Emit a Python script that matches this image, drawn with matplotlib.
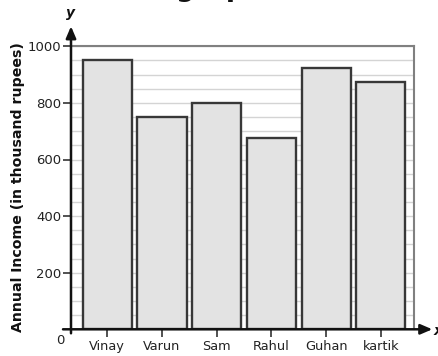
import matplotlib
matplotlib.use("Agg")
import matplotlib.pyplot as plt
from matplotlib.ticker import MultipleLocator

names = ["Vinay", "Varun", "Sam", "Rahul", "Guhan", "kartik"]
income = [950, 750, 800, 675, 925, 875]
y_ticks = [200, 400, 600, 800, 1000]

W, H = 439, 356
fig = plt.figure(figsize=(W / 100, H / 100), dpi=100)
fig.patch.set_facecolor("white")

# axes box in pixel terms: x 71..414, y 46..329 (from top)
ax = fig.add_axes([71 / W, (H - 329.3) / H, 343.3 / W, 283 / H])
pos = list(range(len(names)))
x_lo, x_hi = -0.664, 5.612
ax.set_xlim(x_lo, x_hi)
ax.set_ylim(0, 1000)

# light gridlines every 50
ax.yaxis.set_minor_locator(MultipleLocator(50))
ax.grid(which="both", axis="y", color="#d4d4d4", lw=1.0)
ax.set_axisbelow(True)

ax.bar(pos, income, width=0.9, color="#e3e3e3", edgecolor="#383838",
       linewidth=1.7, zorder=3)

for side in ("top", "right"):
    ax.spines[side].set_color("#808080")
    ax.spines[side].set_linewidth(1.5)
for side in ("left", "bottom"):
    ax.spines[side].set_visible(False)

# axis lines with arrows, extending past the plot box
px_x = 54.7  # pixels per category
px_y = 0.283  # pixels per unit
ax.annotate("", xy=(x_hi + 18 / px_x, 0), xytext=(x_lo - 8 / px_x, 0),
            xycoords="data", textcoords="data", annotation_clip=False,
            arrowprops=dict(arrowstyle="-|>,head_length=0.7,head_width=0.3",
                            color="#111111", lw=1.8, shrinkA=0, shrinkB=0))
ax.annotate("", xy=(x_lo, 1000 + 20 / px_y), xytext=(x_lo, -4 / px_y),
            xycoords="data", textcoords="data", annotation_clip=False,
            arrowprops=dict(arrowstyle="-|>,head_length=0.7,head_width=0.3",
                            color="#111111", lw=1.8, shrinkA=0, shrinkB=0))

ax.set_yticks(y_ticks)
ax.set_yticklabels([str(v) for v in y_ticks])
ax.tick_params(axis="y", which="major", length=6, width=1.2, color="#333333",
               labelsize=9.5, labelcolor="#222222", pad=1, direction="out")
ax.tick_params(axis="y", which="minor", length=0)
ax.set_xticks(pos)
ax.set_xticklabels(names)
ax.tick_params(axis="x", length=6, width=1.2, color="#333333", labelsize=9.3,
               labelcolor="#222222", pad=2, direction="out")

fig.text(60 / W, (H - 340) / H, "0", ha="center", va="center", fontsize=9.5,
         color="#222222")
fig.text(70 / W, (H - 13) / H, "y", ha="center", va="center", fontsize=10,
         fontweight="bold", style="italic", color="#111111")
fig.text(434 / W, (H - 331) / H, "x", ha="left", va="center", fontsize=10,
         fontweight="bold", style="italic", color="#111111")
fig.text(18 / W, (H - 187.5) / H, "Annual Income (in thousand rupees)",
         rotation=90, ha="center", va="center", fontsize=10.2,
         fontweight="bold", color="#111111")
fig.text(190 / W, (H + 3.5) / H, "Bar graph", ha="center", va="baseline",
         fontsize=19, fontweight="bold", color="#111111")

fig.savefig("out.png", dpi=100)
